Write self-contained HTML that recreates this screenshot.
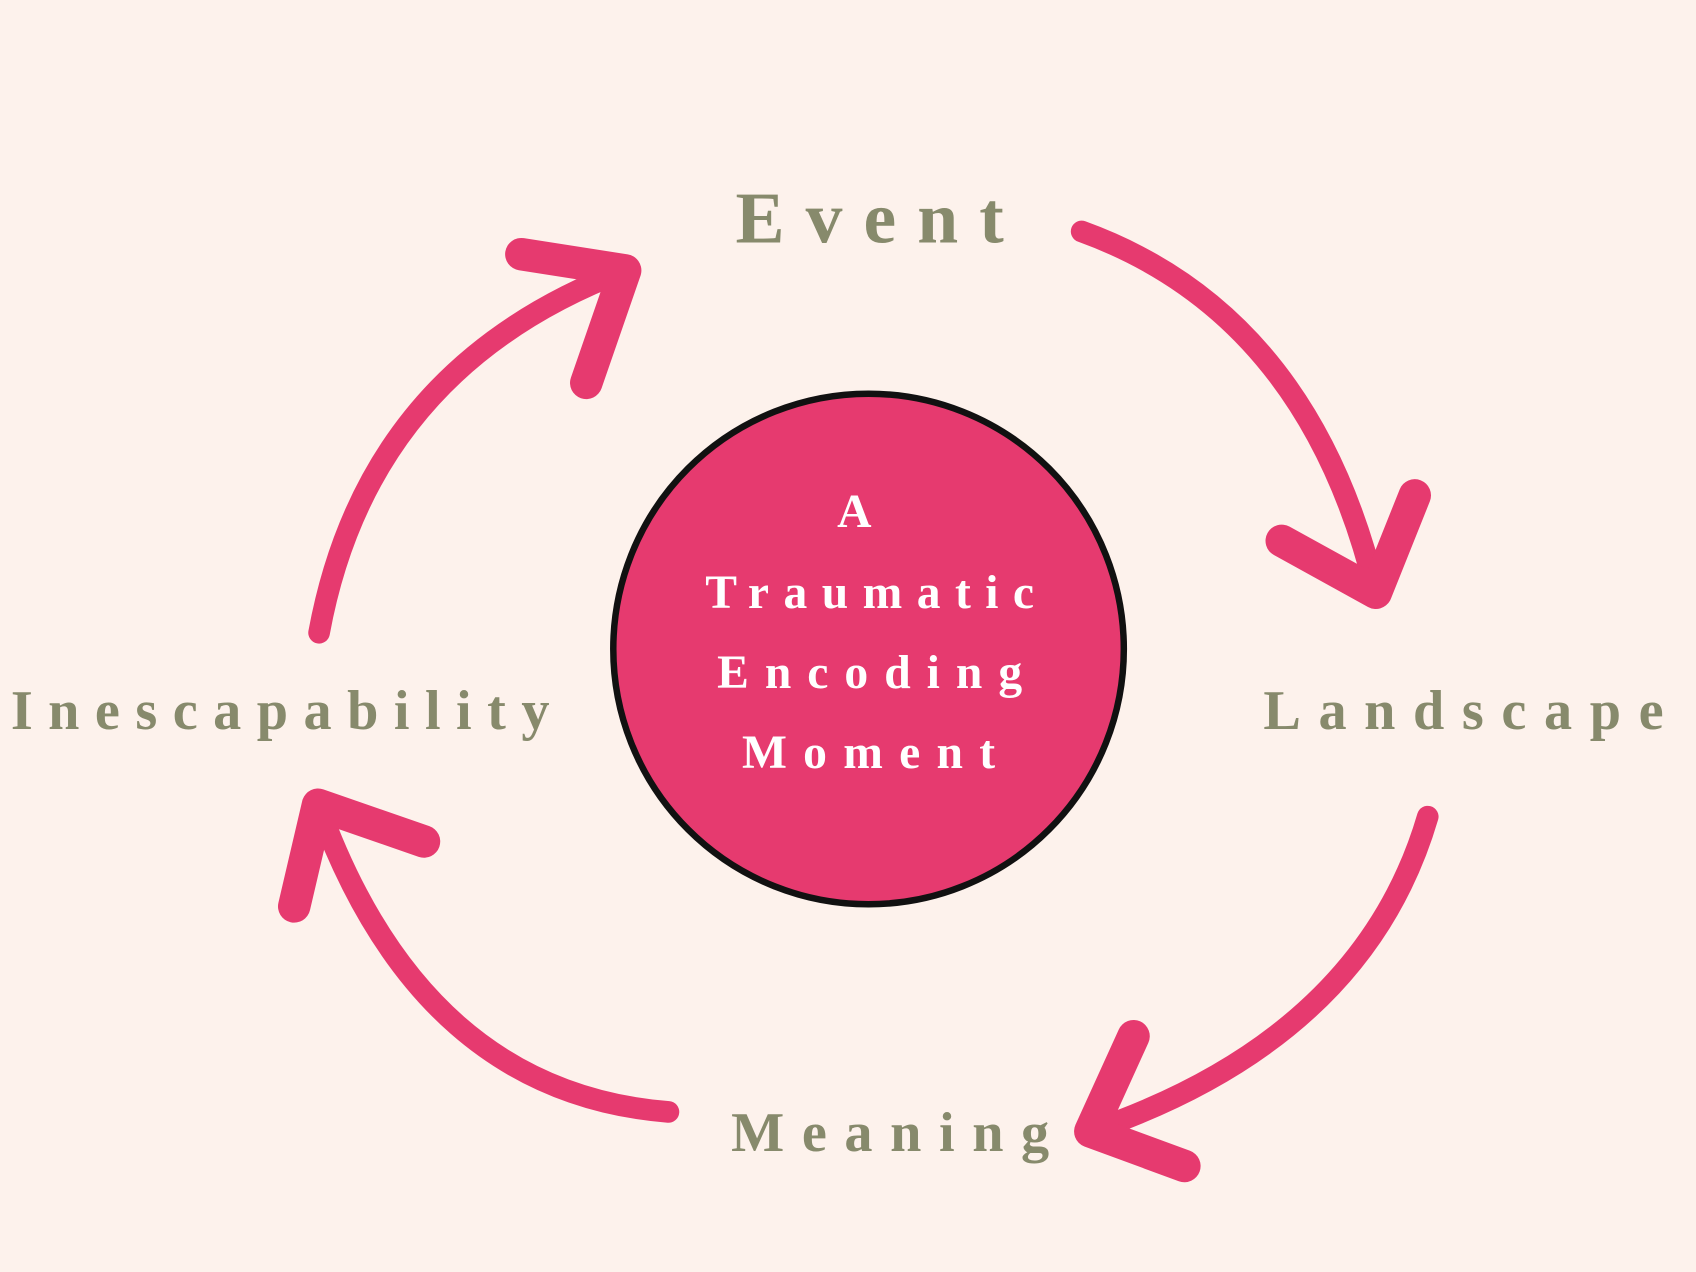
<!DOCTYPE html>
<html><head><meta charset="utf-8"><style>
html,body{margin:0;padding:0;background:#fdf2ec;}
svg{display:block;}
</style></head><body>
<svg width="1696" height="1272" viewBox="0 0 1568 1176" xmlns="http://www.w3.org/2000/svg">
<rect width="1568" height="1176" fill="#fdf2ec"/>
<g fill="none" stroke="#e63a6f" stroke-linecap="round" stroke-linejoin="round">
  <path d="M1000 214 Q1210 290 1272 548" stroke-width="20"/>
  <path d="M1185 500 L1272 548 L1308 458" stroke-width="30"/>
  <path d="M1320 755 Q1260 960 1008 1046" stroke-width="20"/>
  <path d="M1048 958 L1008 1046 L1095 1078" stroke-width="30"/>
  <path d="M618 1028 Q390 1010 294 744" stroke-width="20"/>
  <path d="M392 778 L294 744 L272 838" stroke-width="30"/>
  <path d="M295 585 Q340 340 578 250" stroke-width="20"/>
  <path d="M482 235 L578 250 L542 354" stroke-width="30"/>
</g>
<circle cx="803" cy="600" r="236" fill="#e63a6f" stroke="#111" stroke-width="6"/>
<g font-family="'Liberation Serif', serif" font-weight="bold" fill="#878a6c">
  <text x="680" y="224" font-size="68" textLength="248" lengthAdjust="spacing">Event</text>
  <text x="10" y="674" font-size="52" textLength="498" lengthAdjust="spacing">Inescapability</text>
  <text x="1168" y="674" font-size="52" textLength="370" lengthAdjust="spacing">Landscape</text>
  <text x="676" y="1064" font-size="52" textLength="294" lengthAdjust="spacing">Meaning</text>
</g>
<g font-family="'Liberation Serif', serif" font-weight="bold" fill="#fff" font-size="44">
  <text x="774" y="487" textLength="36" lengthAdjust="spacing">A</text>
  <text x="652" y="562" textLength="304" lengthAdjust="spacing">Traumatic</text>
  <text x="663" y="636" textLength="282" lengthAdjust="spacing">Encoding</text>
  <text x="686" y="710" textLength="234" lengthAdjust="spacing">Moment</text>
</g>
</svg>
</body></html>
